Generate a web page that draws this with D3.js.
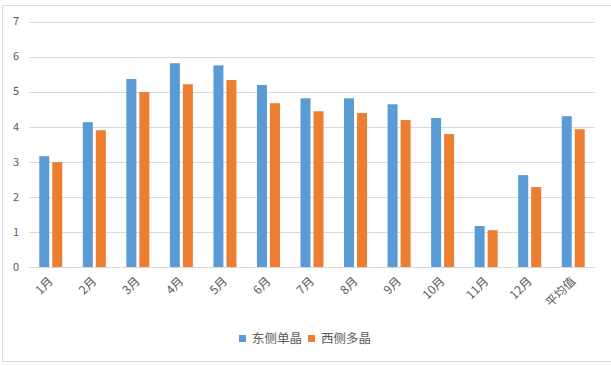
<!DOCTYPE html>
<html><head><meta charset="utf-8">
<script src="https://cdn.jsdelivr.net/npm/d3@7"></script>
<style>body{margin:0;background:#fff;}svg{display:block;}</style>
</head><body>
<script>
const categories = ["1月","2月","3月","4月","5月","6月","7月","8月","9月","10月","11月","12月","平均值"];
const eastValues = [3.16,4.13,5.36,5.81,5.75,5.19,4.81,4.81,4.64,4.25,1.17,2.62,4.30];
const westValues = [2.99,3.90,4.99,5.21,5.33,4.67,4.44,4.39,4.19,3.79,1.05,2.28,3.93];
const seriesNames = ["东侧单晶","西侧多晶"];
const yTicks = [0,1,2,3,4,5,6,7];
const colors = ["#5b9bd5","#ed7d31"];

const W = 611, H = 366;
const svg = d3.select("body").append("svg").attr("width", W).attr("height", H);
const font = "'Microsoft YaHei','Noto Sans CJK SC',sans-serif";

svg.append("rect").attr("x",2.5).attr("y",5.5).attr("width",620).attr("height",356)
  .attr("fill","none").attr("stroke","#d9d9d9").attr("stroke-width",1);

const x = d3.scaleBand().domain(categories).range([29, 595]);
const y = d3.scaleLinear().domain([0,7]).range([267, 21.5]);

const g = svg.append("g");
g.selectAll("line.grid").data(yTicks).join("line")
  .attr("x1",29).attr("x2",595)
  .attr("y1",d=>Math.round(y(d))+0.5).attr("y2",d=>Math.round(y(d))+0.5)
  .attr("stroke","#d9d9d9").attr("stroke-width",1);

g.selectAll("text.ytick").data(yTicks).join("text")
  .attr("x",19).attr("y",d=>y(d)).attr("dy","0.35em")
  .attr("text-anchor","end").attr("font-family",font).attr("font-size",11)
  .attr("fill","#595959").text(d=>d);

const barW = 10, gap = 3;
const data = categories.map((c,i)=>({c, v:[eastValues[i], westValues[i]]}));
data.forEach(d=>{
  d.v.forEach((v,k)=>{
    const cx = x(d.c) + x.bandwidth()/2;
    const bx = k===0 ? cx - gap/2 - barW : cx + gap/2;
    g.append("rect").attr("x",bx).attr("y",y(v)).attr("width",barW)
      .attr("height",y(0)-y(v)).attr("fill",colors[k]);
  });
});

g.selectAll("text.xtick").data(categories).join("text")
  .attr("transform",d=>`translate(${x(d)+x.bandwidth()/2},${279}) rotate(-45)`)
  .attr("text-anchor","end").attr("dy","0.35em")
  .attr("font-family",font).attr("font-size",12).attr("fill","#595959")
  .text(d=>d);

const leg = svg.append("g");
const items = [{x:239, t:seriesNames[0], c:colors[0]},{x:308, t:seriesNames[1], c:colors[1]}];
items.forEach(it=>{
  leg.append("rect").attr("x",it.x).attr("y",335).attr("width",7).attr("height",7).attr("fill",it.c);
  leg.append("text").attr("x",it.x+13).attr("y",339).attr("dy","0.35em")
    .attr("font-family",font).attr("font-size",12.5).attr("fill","#595959").text(it.t);
});
</script>
</body></html>
